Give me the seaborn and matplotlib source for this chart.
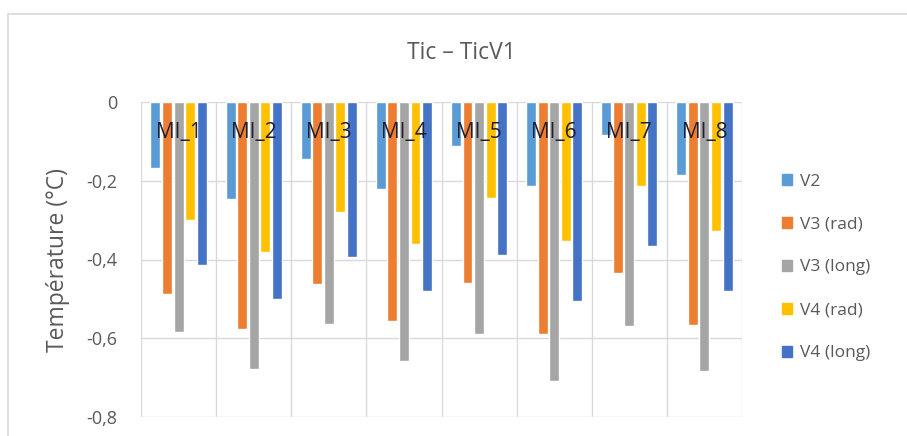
import pandas as pd
import matplotlib.pyplot as plt
import matplotlib.patches as mpatches
import seaborn as sns

categories = ['MI_1', 'MI_2', 'MI_3', 'MI_4', 'MI_5', 'MI_6', 'MI_7', 'MI_8']
series = ['V2', 'V3 (rad)', 'V3 (long)', 'V4 (rad)', 'V4 (long)']
v2 = [-0.168, -0.246, -0.145, -0.222, -0.112, -0.214, -0.083, -0.185]
v3_rad = [-0.488, -0.577, -0.463, -0.557, -0.459, -0.590, -0.434, -0.566]
v3_long = [-0.585, -0.679, -0.565, -0.659, -0.590, -0.709, -0.569, -0.683]
v4_rad = [-0.300, -0.382, -0.280, -0.361, -0.243, -0.353, -0.214, -0.328]
v4_long = [-0.414, -0.500, -0.394, -0.479, -0.389, -0.505, -0.365, -0.480]
yticks = [0, -0.2, -0.4, -0.6, -0.8]
ytick_labels = ['0', '-0,2', '-0,4', '-0,6', '-0,8']
colors = ['#5B9BD5', '#ED7D31', '#A5A5A5', '#FFC000', '#4472C4']

df = pd.DataFrame({'cat': categories, 'V2': v2, 'V3 (rad)': v3_rad,
                   'V3 (long)': v3_long, 'V4 (rad)': v4_rad, 'V4 (long)': v4_long})
df = df.melt(id_vars='cat', var_name='serie', value_name='val')

sns.set_style('white')
plt.rcParams['font.family'] = ['Open Sans', 'DejaVu Sans']

fig = plt.figure(figsize=(9.07, 4.36), dpi=100)
ax = fig.add_axes([141 / 907, 19 / 436, 601 / 907, 315 / 436])

sns.barplot(data=df, x='cat', y='val', hue='serie', order=categories,
            hue_order=series, palette=colors, width=0.77, gap=0.14,
            saturation=1, legend=False, ax=ax)

ax.set_ylim(-0.8, 0)
ax.set_xlim(-0.5, len(categories) - 0.5)
ax.set_yticks(yticks)
ax.set_yticklabels(ytick_labels)
ax.set_xticks([i + 0.5 for i in range(-1, len(categories))], minor=True)
ax.set_xticks([])
ax.grid(True, which='major', axis='y', color='#d9d9d9', lw=1)
ax.grid(True, which='minor', axis='x', color='#d9d9d9', lw=1)
ax.set_axisbelow(True)
for s in ax.spines.values():
    s.set_visible(False)
ax.tick_params(axis='y', length=0, pad=17, labelsize=13, labelcolor='#595959')
ax.tick_params(axis='x', which='both', length=0)
ax.set_xlabel('')
ax.set_ylabel('Température (°C)', fontsize=16.5, color='#595959')
ax.yaxis.set_label_coords(-0.118, 0.5)

for i, c in enumerate(categories):
    ax.text(i, -0.078, c, ha='center', va='center', fontsize=15, color='#1f1f2e')

fig.text(461 / 907, 1 - 53 / 436, 'Tic – TicV1', ha='center', va='center',
         fontsize=16.5, color='#595959')

handles = [mpatches.Patch(color=c, label=s) for c, s in zip(colors, series)]
leg = fig.legend(handles=handles, loc='upper left', bbox_to_anchor=(766 / 907, 1 - 158 / 436),
                 frameon=False, fontsize=12.5, handlelength=0.6, handleheight=0.6,
                 handletextpad=0.45, labelspacing=1.55)
for t in leg.get_texts():
    t.set_color('#595959')

fig.patches.append(mpatches.Rectangle((8 / 907, -0.1), 1.2, 1 - 14 / 436 + 0.1,
                                      transform=fig.transFigure, fill=False,
                                      edgecolor='#d9d9d9', lw=1.2, figure=fig))

fig.savefig('out.png', dpi=100)
